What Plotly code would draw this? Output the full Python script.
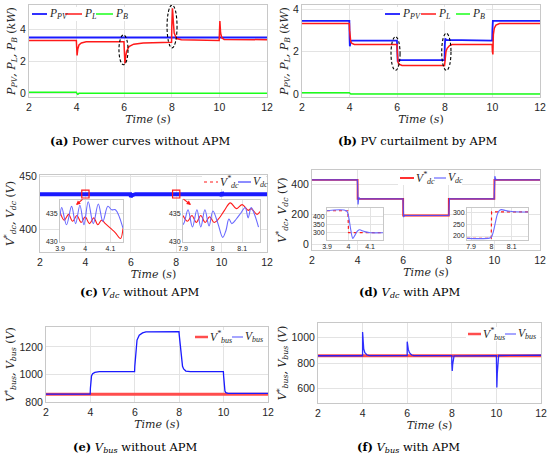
import plotly.graph_objects as go

W, H = 550, 459

# ---------------- data ----------------
# (a) power curves without APM
a_t_pv = [2, 12]
a_p_pv = [3.52, 3.52]
a_t_l = [2, 3.99, 4.0, 4.02, 4.05, 4.1, 4.2, 4.4, 5.99, 6.0, 6.03, 6.06, 6.1, 6.2, 6.4, 6.8, 7.99, 8.0, 8.03, 8.06, 8.1, 8.2, 8.4, 9.99, 10.0, 10.02, 10.05, 10.1, 10.2, 12]
a_p_l = [3.33, 3.33, 3.0, 2.4, 2.8, 3.05, 3.18, 3.25, 3.25, 2.6, 1.9, 2.3, 2.65, 2.95, 3.1, 3.18, 3.22, 4.2, 5.35, 4.6, 3.8, 3.45, 3.38, 3.33, 3.9, 4.55, 3.8, 3.5, 3.4, 3.38]
a_t_b = [2, 3.99, 4.02, 4.05, 4.1, 12]
a_p_b = [0.1, 0.1, 0.0, -0.03, 0.03, 0.03]

# (b) PV curtailment by APM
b_t_pv = [2, 3.99, 4.0, 4.01, 4.05, 4.1, 5.99, 6.0, 6.02, 6.05, 7.99, 8.0, 8.02, 8.05, 9.99, 10.0, 10.02, 12]
b_p_pv = [3.45, 3.45, 2.6, 2.25, 2.5, 2.52, 2.52, 1.6, 1.52, 1.59, 1.59, 2.3, 2.62, 2.55, 2.52, 3.0, 3.45, 3.45]
b_t_l = [2, 3.99, 4.0, 4.02, 4.05, 4.1, 4.2, 5.99, 6.0, 6.03, 6.08, 6.2, 7.99, 8.0, 8.02, 8.05, 8.1, 8.2, 8.3, 9.99, 10.0, 10.02, 10.04, 10.08, 10.15, 10.3, 12]
b_p_l = [3.32, 3.32, 3.0, 2.6, 2.45, 2.38, 2.33, 2.33, 1.8, 1.5, 1.4, 1.34, 1.34, 1.5, 1.75, 2.0, 2.15, 2.28, 2.33, 2.33, 2.0, 1.86, 2.8, 3.1, 3.25, 3.32, 3.32]
b_t_b = [2, 3.99, 4.05, 12]
b_p_b = [0.05, 0.05, -0.01, -0.01]

# (c) Vdc without APM
c_t_ref = [2, 12]
c_v_ref = [433, 433]
c_t_dc = [2, 5.98, 6.0, 6.05, 6.2, 9.98, 10.0, 10.02, 10.05, 12]
c_v_dc = [433, 433, 430.5, 432, 433, 433, 431, 435, 433, 433]
# (c) inset around t = 4 s
c1_t_ref = [3.90, 3.917, 3.934, 3.95, 3.967, 3.984, 4.0, 4.017, 4.034, 4.05, 4.065, 4.08, 4.10, 4.12, 4.14, 4.15]
c1_v_ref = [435.2, 433.8, 434.8, 433.6, 434.6, 433.4, 434.4, 433.2, 434.2, 433.0, 433.8, 433.2, 432.4, 431.6, 430.6, 432.4]
c1_t_dc = [3.90, 3.907, 3.926, 3.946, 3.962, 3.979, 3.995, 4.012, 4.032, 4.052, 4.07, 4.09, 4.105, 4.12, 4.15]
c1_v_dc = [434.5, 436.0, 433.0, 436.2, 433.2, 436.4, 433.0, 437.0, 433.2, 436.6, 433.6, 436.2, 435.6, 435.6, 432.4]
# (c) inset around t = 8 s
c2_t_ref = [7.90, 7.915, 7.93, 7.945, 7.96, 7.975, 7.99, 8.005, 8.02, 8.04, 8.06, 8.08, 8.10, 8.12, 8.13, 8.15, 8.16]
c2_v_ref = [434.6, 433.6, 434.6, 433.4, 434.6, 433.4, 434.4, 433.4, 434.0, 435.5, 436.8, 435.8, 436.5, 435.5, 435.8, 434.8, 435.3]
c2_t_dc = [7.90, 7.905, 7.917, 7.932, 7.947, 7.96, 7.974, 7.988, 8.001, 8.018, 8.034, 8.045, 8.055, 8.065, 8.08, 8.095, 8.11, 8.12, 8.13, 8.14, 8.155]
c2_v_dc = [433.0, 433.5, 435.6, 432.6, 435.6, 432.6, 435.6, 432.8, 435.4, 433.2, 430.8, 432.0, 434.0, 433.2, 434.0, 435.0, 436.0, 434.2, 436.0, 435.0, 432.6]

# (d) Vdc with APM
d_t_ref = [2, 3.999, 4.0, 5.999, 6.0, 7.999, 8.0, 9.999, 10.0, 12]
d_v_ref = [434, 434, 305, 305, 193, 193, 305, 305, 434, 434]
d_t_dc = [2, 3.99, 4.0, 4.02, 4.05, 4.1, 5.99, 6.0, 6.02, 6.05, 7.99, 8.0, 8.03, 8.06, 9.99, 10.0, 10.02, 10.05, 10.1, 12]
d_v_dc = [434, 434, 400, 268, 315, 305, 305, 210, 182, 193, 193, 193, 310, 305, 305, 380, 458, 440, 434, 434]
d1_t_ref = [3.9, 3.997, 4.0, 4.16]
d1_v_ref = [435, 435, 300, 300]
d1_t_dc = [3.9, 3.99, 4.0, 4.01, 4.02, 4.03, 4.04, 4.05, 4.06, 4.08, 4.1, 4.16]
d1_v_dc = [435, 435, 400, 320, 265, 285, 308, 318, 314, 305, 300, 300]
d2_t_ref = [7.88, 7.999, 8.001, 8.18]
d2_v_ref = [190, 190, 303, 303]
d2_t_dc = [7.88, 7.99, 8.0, 8.01, 8.02, 8.03, 8.04, 8.05, 8.07, 8.1, 8.18]
d2_v_dc = [190, 191, 195, 220, 260, 295, 310, 313, 309, 305, 303]

# (e) Vbus without APM
e_t_ref = [2, 12]
e_v_ref = [857, 857]
e_t_bus = [2, 3.99, 4.0, 4.02, 4.05, 4.1, 4.2, 4.4, 5.99, 6.0, 6.05, 6.1, 6.2, 6.35, 6.5, 7.99, 8.0, 8.05, 8.1, 8.15, 8.2, 8.3, 8.5, 9.99, 10.0, 10.03, 10.06, 10.1, 10.2, 12]
e_v_bus = [857, 857, 900, 960, 990, 1005, 1015, 1020, 1020, 1060, 1190, 1250, 1285, 1302, 1310, 1312, 1290, 1200, 1110, 1060, 1040, 1025, 1020, 1020, 990, 920, 880, 868, 862, 862]

# (f) Vbus with APM
f_t_ref = [2, 12]
f_v_ref = [856, 856]
f_t_bus = [2, 3.999, 4.0, 4.02, 4.05, 4.1, 4.2, 4.3, 5.999, 6.0, 6.02, 6.05, 6.1, 6.2, 6.3, 7.999, 8.0, 8.02, 8.04, 8.07, 8.1, 9.999, 10.0, 10.02, 10.04, 10.07, 10.1, 12]
f_v_bus = [856, 856, 1040, 960, 910, 880, 862, 857, 857, 965, 930, 905, 880, 862, 857, 857, 800, 738, 790, 840, 855, 857, 760, 610, 720, 820, 858, 860]

x_ticks = [2, 4, 6, 8, 10, 12]

# ---------------- styling ----------------
BLUE = "#1a1aff"
RED = "#ff1a1a"
GREEN = "#1aff1a"
LBLUE = "#6a6aff"
TICKF = dict(family="Liberation Sans", size=10.5, color="#262626")
TITLEF = dict(family="DejaVu Serif", size=11, color="#262626")
SMALLF = dict(family="Liberation Sans", size=7, color="#262626")
LEGF = dict(family="Liberation Serif", size=11.5, color="#262626")
CAPF = dict(family="DejaVu Serif", size=11.5, color="black")
GRID = "#e3e3e3"
FRAME = "#c8c8c8"


def dom_x(a, b):
    return [a / W, b / W]


def dom_y(top, bot):
    return [1 - bot / H, 1 - top / H]


fig = go.Figure()


def add(x, y, n, color, width, name=None, dash=None, opacity=1, shape="linear"):
    fig.add_trace(go.Scatter(
        x=x, y=y, mode="lines", name=name, showlegend=False,
        line=dict(color=color, width=width, dash=dash, shape=shape), opacity=opacity,
        xaxis="x" if n == 1 else f"x{n}", yaxis="y" if n == 1 else f"y{n}",
        hoverinfo="skip"))


# (a)
add(a_t_pv, a_p_pv, 1, BLUE, 1.8, "P_PV")
add(a_t_l, a_p_l, 1, RED, 1.5, "P_L")
add(a_t_b, a_p_b, 1, GREEN, 1.5, "P_B")
# (b)
add(b_t_pv, b_p_pv, 2, BLUE, 1.8, "P_PV")
add(b_t_l, b_p_l, 2, RED, 1.5, "P_L")
add(b_t_b, b_p_b, 2, GREEN, 1.5, "P_B")
# (c)
add(c_t_ref, c_v_ref, 3, RED, 1.2, "Vdc*", dash="dot")
add(c_t_dc, c_v_dc, 3, BLUE, 3.8, "Vdc")
add(c1_t_ref, c1_v_ref, 7, RED, 1.1, shape="spline")
add(c1_t_dc, c1_v_dc, 7, LBLUE, 1.1, shape="spline")
add(c2_t_ref, c2_v_ref, 8, RED, 1.1, shape="spline")
add(c2_t_dc, c2_v_dc, 8, LBLUE, 1.1, shape="spline")
# (d)
add(d_t_ref, d_v_ref, 4, RED, 1.8, "Vdc*")
add(d_t_dc, d_v_dc, 4, "#4d4dff", 1.2, "Vdc", opacity=0.9)
add(d1_t_ref, d1_v_ref, 9, RED, 1.2, dash="dot")
add(d1_t_dc, d1_v_dc, 9, LBLUE, 1.1, shape="spline")
add(d2_t_ref, d2_v_ref, 10, RED, 1.2, dash="dot")
add(d2_t_dc, d2_v_dc, 10, LBLUE, 1.1, shape="spline")
# (e)
add(e_t_ref, e_v_ref, 5, "#ff4d4d", 3, "Vbus*")
add(e_t_bus, e_v_bus, 5, BLUE, 1.3, "Vbus")
# (f)
add(f_t_ref, f_v_ref, 6, "#ff4d4d", 3, "Vbus*")
add(f_t_bus, f_v_bus, 6, BLUE, 1.3, "Vbus", opacity=0.9)

# ---------------- axes ----------------
TIME = "<i>Time</i> (<i>s</i>)"
panels = {
    1: dict(px=(29, 267), py=(5, 97), yr=[-0.2, 5.55], yt=[0, 2, 4],
            yl="<i>P<sub>PV</sub>, P<sub>L</sub>, P<sub>B</sub></i> (<i>kW</i>)"),
    2: dict(px=(302, 540), py=(5, 97), yr=[-0.15, 4.2], yt=[0, 2, 4],
            yl="<i>P<sub>PV</sub>, P<sub>L</sub>, P<sub>B</sub></i> (<i>kW</i>)"),
    3: dict(px=(40, 267), py=(175, 252), yr=[379, 451], yt=[400, 450],
            yl="<i>V<sup>*</sup><sub>dc</sub>, V<sub>dc</sub></i> (<i>V</i>)"),
    4: dict(px=(312, 540), py=(170, 250), yr=[-40, 500], yt=[0, 200, 400],
            yl="<i>V<sup>*</sup><sub>dc</sub>, V<sub>dc</sub></i> (<i>V</i>)"),
    5: dict(px=(46, 268), py=(327, 402), yr=[800, 1345], yt=[800, 1000, 1200],
            yl="<i>V<sup>*</sup><sub>bus</sub>, V<sub>bus</sub></i> (<i>V</i>)"),
    6: dict(px=(318, 541), py=(323, 403), yr=[490, 1110], yt=[600, 800, 1000],
            yl="<i>V<sup>*</sup><sub>bus</sub>, V<sub>bus</sub></i> (<i>V</i>)"),
}
for n, p in panels.items():
    xs = "xaxis" if n == 1 else f"xaxis{n}"
    ys = "yaxis" if n == 1 else f"yaxis{n}"
    ya = "y" if n == 1 else f"y{n}"
    xa = "x" if n == 1 else f"x{n}"
    fig.layout[xs] = dict(domain=dom_x(*p["px"]), range=[2, 12], tickvals=x_ticks,
                          anchor=ya, showgrid=True, gridcolor=GRID, zeroline=False,
                          showline=True, mirror=True, linecolor=FRAME, linewidth=1,
                          ticks="", tickfont=TICKF, automargin=False,
                          title=dict(text=TIME, font=TITLEF, standoff=1))
    fig.layout[ys] = dict(domain=dom_y(*p["py"]), range=p["yr"], tickvals=p["yt"],
                          anchor=xa, showgrid=True, gridcolor=GRID, zeroline=False,
                          showline=True, mirror=True, linecolor=FRAME, linewidth=1,
                          ticks="", tickfont=TICKF, automargin=False,
                          title=dict(text=p["yl"], font=TITLEF, standoff=2))

insets = {
    7: dict(px=(60, 123), py=(200, 242), xr=[3.9, 4.15], yr=[430, 437.3],
            xt=[3.9, 4, 4.1], xtt=["3.9", "4", "4.1"], yt=[430, 435]),
    8: dict(px=(183, 260), py=(200, 242), xr=[7.9, 8.16], yr=[430, 437.3],
            xt=[7.9, 8, 8.1], xtt=["7.9", "8", "8.1"], yt=[430, 435]),
    9: dict(px=(327, 383), py=(208, 240), xr=[3.9, 4.16], yr=[255, 452],
            xt=[3.9, 4, 4.1], xtt=["3.9", "4", "4.1"], yt=[300, 350, 400]),
    10: dict(px=(467, 528), py=(208, 240), xr=[7.88, 8.18], yr=[183, 320],
             xt=[7.9, 8, 8.1], xtt=["7.9", "8", "8.1"], yt=[200, 250, 300]),
}
for n, p in insets.items():
    fig.layout[f"xaxis{n}"] = dict(domain=dom_x(*p["px"]), range=p["xr"], tickvals=p["xt"],
                                   ticktext=p["xtt"], anchor=f"y{n}", showgrid=True,
                                   gridcolor=GRID, zeroline=False, showline=True, mirror=True,
                                   linecolor=FRAME, ticks="", tickfont=SMALLF, automargin=False)
    fig.layout[f"yaxis{n}"] = dict(domain=dom_y(*p["py"]), range=p["yr"], tickvals=p["yt"],
                                   anchor=f"x{n}", showgrid=True, gridcolor=GRID,
                                   zeroline=False, showline=True, mirror=True,
                                   linecolor=FRAME, ticks="", tickfont=SMALLF, automargin=False)

shapes = []
# white background behind the insets
for n in insets:
    shapes.append(dict(type="rect", xref=f"x{n} domain", yref=f"y{n} domain",
                       x0=0, x1=1, y0=0, y1=1, fillcolor="white", line=dict(width=0),
                       layer="below"))

# dashed ellipses
for e, ref in [((5.78, 6.16, 1.82, 3.68), ("x", "y")), ((7.8, 8.22, 2.87, 5.55), ("x", "y")),
               ((5.74, 6.12, 1.11, 2.7), ("x2", "y2")), ((7.87, 8.26, 1.11, 2.86), ("x2", "y2"))]:
    shapes.append(dict(type="circle", xref=ref[0], yref=ref[1], x0=e[0], x1=e[1],
                       y0=e[2], y1=e[3], line=dict(color="black", width=1.1, dash="3px,2px")))
# red zoom markers in (c)
for cx in [4, 8]:
    shapes.append(dict(type="rect", xref="x3", yref="y3", x0=cx - 0.16, x1=cx + 0.16,
                       y0=429.5, y1=436.8, line=dict(color=RED, width=1.2)))

annotations = []
# arrows in (c)
annotations.append(dict(xref="paper", yref="paper", x=76 / W, y=1 - 205 / H, ax=8, ay=-7,
                        showarrow=True, arrowhead=2, arrowsize=0.8, arrowwidth=1.1,
                        arrowcolor=RED, text=""))
annotations.append(dict(xref="paper", yref="paper", x=191 / W, y=1 - 205 / H, ax=-9, ay=-7,
                        showarrow=True, arrowhead=2, arrowsize=0.8, arrowwidth=1.1,
                        arrowcolor=RED, text=""))

# captions
for txt, cx, cy in [("<b>(a)</b> Power curves without APM", 140, 141),
                    ("<b>(b)</b> PV curtailment by APM", 417, 141),
                    ("<b>(c)</b> <i>V<sub>dc</sub></i> without APM", 140, 292),
                    ("<b>(d)</b> <i>V<sub>dc</sub></i> with APM", 409, 292),
                    ("<b>(e)</b> <i>V<sub>bus</sub></i> without APM", 135, 447),
                    ("<b>(f)</b> <i>V<sub>bus</sub></i> with APM", 408, 447)]:
    annotations.append(dict(xref="paper", yref="paper", x=cx / W, y=1 - cy / H, text=txt,
                            showarrow=False, font=CAPF, xanchor="center", yanchor="middle"))

# legends (line sample + label), positions in pixels
LEG_PV = "<i>P<sub>PV</sub></i>"
LEG_L = "<i>P<sub>L</sub></i>"
LEG_B = "<i>P<sub>B</sub></i>"
LEG_DCR = "<i>V<sup>*</sup><sub>dc</sub></i>"
LEG_DC = "<i>V<sub>dc</sub></i>"
LEG_BUSR = "<i>V<sup>*</sup><sub>bus</sub></i>"
LEG_BUS = "<i>V<sub>bus</sub></i>"
legends = [
    # (bg x0, bg x1, y center, items[(x0, x1, color, width, dash, label)])
    (30, 130, 14, [(32, 47, BLUE, 1.8, None, LEG_PV), (65, 82, RED, 1.5, None, LEG_L),
                   (96, 113, GREEN, 1.5, None, LEG_B)]),
    (383, 486, 14, [(385, 400, BLUE, 1.8, None, LEG_PV), (421, 436, RED, 1.5, None, LEG_L),
                    (456, 470, GREEN, 1.5, None, LEG_B)]),
    (202, 266, 182, [(204, 218, RED, 1.2, "dot", LEG_DCR), (238, 251, BLUE, 1.0, None, LEG_DC)]),
    (398, 462, 178, [(400, 414, RED, 1.8, None, LEG_DCR), (434, 446, LBLUE, 1.2, None, LEG_DC)]),
    (193, 266, 337, [(195, 208, "#ff4d4d", 2.5, None, LEG_BUSR), (232, 243, LBLUE, 1.2, None, LEG_BUS)]),
    (466, 540, 334, [(468, 481, "#ff4d4d", 2.5, None, LEG_BUSR), (505, 516, LBLUE, 1.2, None, LEG_BUS)]),
]
for bx0, bx1, yc, items in legends:
    shapes.append(dict(type="rect", xref="paper", yref="paper", x0=bx0 / W, x1=bx1 / W,
                       y0=1 - (yc + 7) / H, y1=1 - (yc - 7) / H, fillcolor="white",
                       line=dict(width=0)))
    for x0, x1, col, wd, ds, lab in items:
        shapes.append(dict(type="line", xref="paper", yref="paper", x0=x0 / W, x1=x1 / W,
                           y0=1 - yc / H, y1=1 - yc / H, line=dict(color=col, width=wd, dash=ds)))
        annotations.append(dict(xref="paper", yref="paper", x=(x1 + 1) / W, y=1 - yc / H,
                                text=lab, showarrow=False, font=LEGF, xanchor="left",
                                yanchor="middle", borderpad=0))

fig.update_layout(
    width=W, height=H, margin=dict(l=0, r=0, t=0, b=0),
    paper_bgcolor="white", plot_bgcolor="white", showlegend=False,
    shapes=shapes, annotations=annotations,
)

# the page's default body margin would shift the 550x459 figure; remove it
fig.write_html("out.html", config={"displayModeBar": False},
               post_script="document.body.style.margin='0px';")
